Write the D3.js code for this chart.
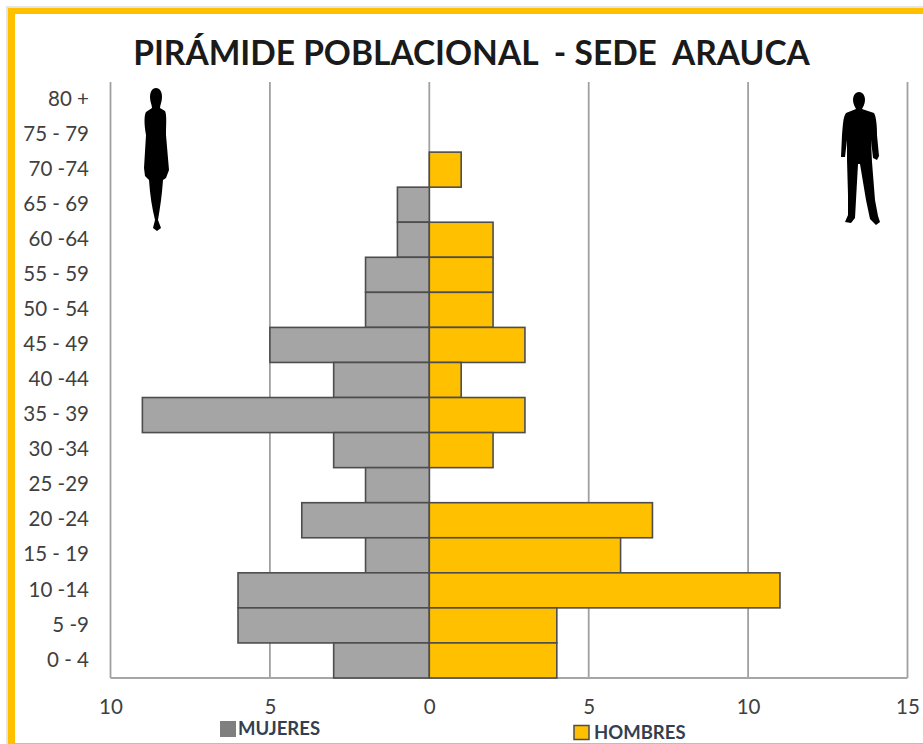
<!DOCTYPE html>
<html>
<head>
<meta charset="utf-8">
<script src="https://cdn.jsdelivr.net/npm/d3@7"></script>
<style>
html, body { margin: 0; padding: 0; background: #fff; overflow: hidden; }
svg { display: block; font-family: Lato, "Open Sans", sans-serif; }
</style>
</head>
<body>
<script>
// top to bottom, as in the picture
let ageGroups = ["80 +", "75 - 79", "70 -74", "65 - 69", "60 -64", "55 - 59", "50 - 54", "45 - 49", "40 -44",
                 "35 - 39", "30 -34", "25 -29", "20 -24", "15 - 19", "10 -14", "5 -9", "0 - 4"];
let mujeres = [0, 0, 0, 1, 1, 2, 2, 5, 3, 9, 3, 2, 4, 2, 6, 6, 3];
let hombres = [0, 0, 1, 0, 2, 2, 2, 3, 1, 3, 2, 0, 7, 6, 11, 4, 4];
let xTicks = [-10, -5, 0, 5, 10, 15];
let titleText = "PIRÁMIDE POBLACIONAL  - SEDE  ARAUCA";

let w = 923, h = 744;
let left = 110.5, right = 907.5, top_ = 82, bottom = 678;

let svg = d3.select("body").append("svg").attr("width", w).attr("height", h);

// page frame
svg.append("rect").attr("x", 6).attr("y", 6).attr("width", w).attr("height", h).attr("fill", "#e4e4e4");
svg.append("rect").attr("x", 8).attr("y", 8).attr("width", w).attr("height", h).attr("fill", "#ffc000");
svg.append("rect").attr("x", 15).attr("y", 14).attr("width", w).attr("height", 729).attr("fill", "#fff");

let xScale = d3.scaleLinear().domain([-10, 15]).range([left, right]);
let yScale = d3.scaleBand().domain(ageGroups).range([top_, bottom]);

// grid
svg.selectAll(".grid")
   .data(xTicks)
   .enter()
   .append("line")
   .attr("class", "grid")
   .attr("x1", d => xScale(d))
   .attr("x2", d => xScale(d))
   .attr("y1", top_)
   .attr("y2", bottom)
   .attr("stroke", "#a0a0a0")
   .attr("stroke-width", 1.8);

svg.append("line")
   .attr("x1", left).attr("x2", right)
   .attr("y1", bottom).attr("y2", bottom)
   .attr("stroke", "#a6a6a6").attr("stroke-width", 2);

// bars
svg.selectAll(".mujeres")
   .data(ageGroups.map((d, i) => [d, mujeres[i]]).filter(d => d[1] > 0))
   .enter()
   .append("rect")
   .attr("class", "mujeres")
   .attr("x", d => xScale(-d[1]))
   .attr("y", d => yScale(d[0]))
   .attr("width", d => xScale(0) - xScale(-d[1]))
   .attr("height", yScale.bandwidth())
   .attr("fill", "#a5a5a5")
   .attr("stroke", "#4d4d4d")
   .attr("stroke-width", 1.6);

svg.selectAll(".hombres")
   .data(ageGroups.map((d, i) => [d, hombres[i]]).filter(d => d[1] > 0))
   .enter()
   .append("rect")
   .attr("class", "hombres")
   .attr("x", xScale(0))
   .attr("y", d => yScale(d[0]))
   .attr("width", d => xScale(d[1]) - xScale(0))
   .attr("height", yScale.bandwidth())
   .attr("fill", "#ffc000")
   .attr("stroke", "#4d4d4d")
   .attr("stroke-width", 1.6);

// axes
let xAxis = d3.axisBottom(xScale).tickValues(xTicks).tickSize(0).tickPadding(21).tickFormat(d => Math.abs(d));
let yAxis = d3.axisLeft(yScale).tickSize(0).tickPadding(21.5);

let gx = svg.append("g").attr("transform", "translate(0," + bottom + ")").call(xAxis);
let gy = svg.append("g").attr("transform", "translate(" + left + ",0)").call(yAxis);
gx.select(".domain").remove();
gy.select(".domain").remove();
svg.selectAll(".tick text")
   .style("font-family", "Lato, 'Open Sans', sans-serif")
   .style("font-size", "20.5px")
   .style("white-space", "pre")
   .attr("fill", "#404040");
gy.selectAll(".tick text").attr("dy", "0.3em");

// title
svg.append("text")
   .attr("x", 471.5)
   .attr("y", 65)
   .attr("text-anchor", "middle")
   .style("white-space", "pre")
   .style("font-size", "33.5px")
   .style("font-weight", 700)
   .attr("fill", "#1a1a1a")
   .text(titleText);

// legend
svg.append("rect").attr("x", 220).attr("y", 721).attr("width", 16).attr("height", 16).attr("fill", "#7f7f7f");
svg.append("text").attr("x", 238).attr("y", 735)
   .style("font-size", "18.5px").style("font-weight", 700).attr("fill", "#333f50").text("MUJERES");
svg.append("rect").attr("x", 574).attr("y", 725.5).attr("width", 15).attr("height", 14)
   .attr("fill", "#ffc000").attr("stroke", "#4d4d4d").attr("stroke-width", 1.5);
svg.append("text").attr("x", 594).attr("y", 739)
   .style("font-size", "18.5px").style("font-weight", 700).attr("fill", "#333f50").text("HOMBRES");

// silhouettes
svg.append("path")
   .attr("fill", "#000")
   .attr("d", "M156,88 C160,88 162,92 162,97 C162,102 160,105 160,108 L165,111 C167,115 166,125 166,135 L169,170 L166,178 L163,180 C162,195 160,208 158,220 L161,228 L157,231 L153,228 L155,220 C152,208 150,195 149,180 L145,176 L144,168 L146,135 C144,125 144,115 146,112 L152,108 C152,105 150,102 150,97 C150,92 152,88 156,88 Z");
svg.append("path")
   .attr("fill", "#000")
   .attr("d", "M859,92 C863,92 865,96 865,100 C865,104 863,107 862,109 L874,113 C876,116 877,125 877,135 L879,156 L877,160 L873,158 L871,140 L872,162 L875,200 L878,216 L880,222 L876,225 L870,219 L866,200 L860,164 L858,164 L856,200 L855,218 L851,223 L845,222 L848,215 L848,195 L847,160 L847,140 L845,157 L841,157 L842,135 C843,125 843,117 846,113 L856,109 C855,107 853,104 853,100 C853,96 855,92 859,92 Z");
</script>
</body>
</html>
